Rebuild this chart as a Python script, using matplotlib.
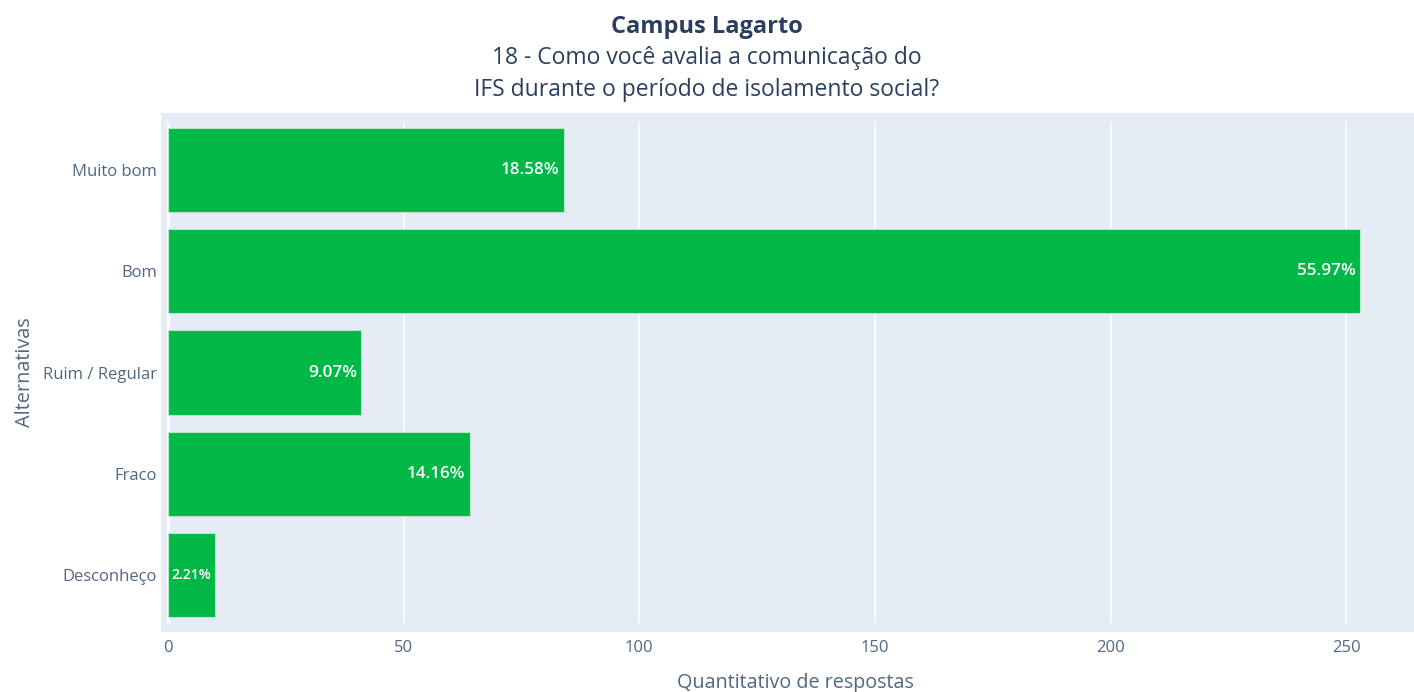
import matplotlib
matplotlib.use('Agg')
import matplotlib.pyplot as plt

# data
categorias = ['Muito bom', 'Bom', 'Ruim / Regular', 'Fraco', 'Desconheço']
respostas = [84, 253, 41, 64, 10]
percentuais = ['18.58%', '55.97%', '9.07%', '14.16%', '2.21%']
x_ticks = [0, 50, 100, 150, 200, 250]

titulo = 'Campus Lagarto'
subtitulo = '18 - Como você avalia a comunicação do\nIFS durante o período de isolamento social?'

COR_BARRA = '#00b846'
COR_FUNDO = '#e5ecf6'
COR_TEXTO = '#2a3f5f'
COR_TICK = '#506784'


def main():
    plt.rcParams['font.family'] = ['Open Sans', 'DejaVu Sans']

    fig = plt.figure(figsize=(14.14, 6.92), dpi=100)
    ax = fig.add_axes([0.1139, 0.0867, 0.8861, 0.75])
    ax.set_facecolor(COR_FUNDO)

    pos = list(range(len(categorias)))
    ax.barh(pos, respostas, height=0.83, color=COR_BARRA,
            edgecolor='#b8e8c8', linewidth=0.8, zorder=3)

    for p, v, txt in zip(pos, respostas, percentuais):
        tamanho = 10 if v < 20 else 12.3
        ax.annotate(txt, xy=(v, p), xytext=(-3, 0), textcoords='offset points',
                    ha='right', va='center', color='white',
                    fontsize=tamanho, fontweight='semibold', zorder=4)

    n = len(categorias)
    ax.set_ylim(n - 1 + 0.56, -0.56)
    ax.set_xlim(-1.49, 264.4)
    ax.set_yticks(pos)
    ax.set_yticklabels(categorias)
    ax.set_xticks(x_ticks)

    # grid lines stop a little short of the plot edges, like in the original
    ax.vlines(x_ticks[1:], -0.47, n - 1 + 0.47, color='white', linewidth=1.2, zorder=1)
    ax.vlines(0, -0.47, n - 1 + 0.47, color='white', linewidth=2.2, zorder=2)

    for s in ax.spines.values():
        s.set_visible(False)
    ax.tick_params(axis='both', length=0, colors=COR_TICK, labelsize=12)
    ax.tick_params(axis='y', pad=3)
    ax.tick_params(axis='x', pad=6)

    ax.set_xlabel('Quantitativo de respostas', fontsize=14.2, color=COR_TICK, labelpad=12)
    ax.xaxis.label.set_x(0.506)
    ax.set_ylabel('Alternativas', fontsize=14.3, color=COR_TICK, labelpad=6)

    fig.text(0.5, 0.961, titulo, ha='center', va='center',
             fontsize=17, fontweight='bold', color=COR_TEXTO)
    fig.text(0.5, 0.893, subtitulo, ha='center', va='center',
             fontsize=16.5, color=COR_TEXTO, linespacing=1.43)

    fig.savefig('out.png', dpi=100)


if __name__ == '__main__':
    main()
